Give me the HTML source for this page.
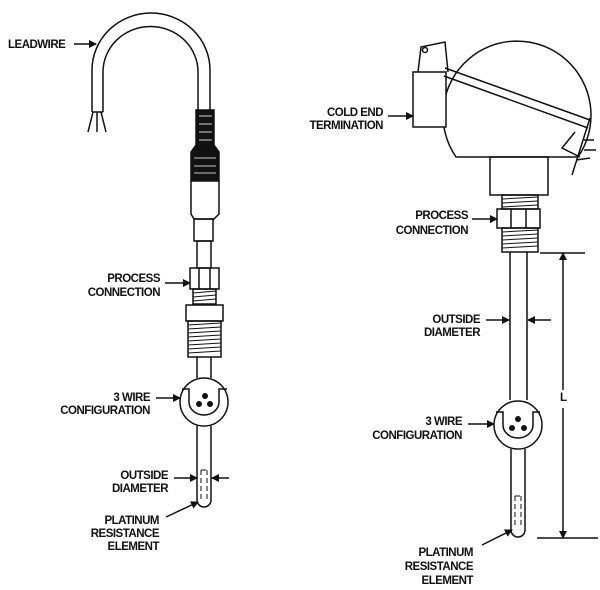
<!DOCTYPE html>
<html><head><style>
html,body{margin:0;padding:0;background:#fff;}
svg{display:block;}
text{font-family:"Liberation Sans",sans-serif;font-size:11.5px;font-weight:bold;fill:#111;letter-spacing:-0.5px;}
</style></head><body>
<svg width="600" height="590" viewBox="0 0 600 590" xmlns="http://www.w3.org/2000/svg">
<defs>
<marker id="ah" markerWidth="8" markerHeight="8" refX="7" refY="4" orient="auto" markerUnits="userSpaceOnUse">
<path d="M0,0 L8,4 L0,8 z" fill="#111"/></marker>
</defs>
<g fill="none" stroke="#111" stroke-width="1.5">
<!-- LEFT PROBE -->
<path d="M92,112 L92,70 A58,56 0 0 1 210,70 L210,112"/>
<path d="M103,112 L103,72 A47,45 0 0 1 198,72 L198,112"/>
<line x1="92" y1="112" x2="103" y2="112"/>
<path d="M93,112 L88,132 M97,112 L97,132 M101,112 L106,132"/>
<path d="M196,110 L214,110 L214,145 L219,152 L219,181 L191,181 L191,152 L196,145 Z" fill="#111"/>
<g stroke="#fff" stroke-width="0.8">
<line x1="199" y1="116" x2="212" y2="116"/><line x1="199" y1="124" x2="212" y2="124"/>
<line x1="199" y1="132" x2="212" y2="132"/><line x1="199" y1="140" x2="212" y2="140"/>
<line x1="194" y1="158" x2="216" y2="158"/><line x1="194" y1="166" x2="216" y2="166"/>
<line x1="194" y1="173" x2="216" y2="173"/>
</g>
<path d="M191,181 L191,214 L194,219 L214,219 L219,214 L219,181"/>
<rect x="194" y="219" width="19" height="22"/>
<rect x="197" y="241" width="14" height="27"/>
<rect x="190" y="268" width="29" height="21"/>
<line x1="199" y1="268" x2="199" y2="289"/><line x1="210" y1="268" x2="210" y2="289"/>
<rect x="193" y="289" width="23" height="15"/>
<path d="M193,293 L216,291 M193,297 L216,295 M193,301 L216,299" stroke-width="1"/>
<rect x="186" y="305" width="37" height="16"/>
<rect x="188" y="321" width="33" height="36"/>
<path d="M188,325 L221,323 M188,329 L221,327 M188,333 L221,331 M188,337 L221,335 M188,341 L221,339 M188,345 L221,343 M188,349 L221,347 M188,353 L221,351" stroke-width="1"/>
<line x1="197" y1="357" x2="197" y2="378"/><line x1="211" y1="357" x2="211" y2="378"/>
<circle cx="204" cy="402" r="24" fill="#fff"/>
<path d="M182,389 L189,389 L189,402 A15,13 0 0 0 219,402 L219,389 L227,389"/>
<line x1="197" y1="426" x2="197" y2="500"/><line x1="211" y1="426" x2="211" y2="500"/>
<path d="M197,500 A7,7 0 0 0 211,500"/>
<path d="M201,470 L201,500 M207,470 L207,500 M201,470 L207,470" stroke-dasharray="5,3" stroke-width="1"/>
<!-- RIGHT PROBE -->
<path d="M456,157 A74,74 0 1 1 578,157 Z" fill="#fff"/>
<rect x="413" y="72" width="33" height="55" fill="#fff"/>
<path d="M418,72 L421,47 L445,42 L448,72"/>
<circle cx="425" cy="50" r="2.5"/>
<path d="M445,68 L590,120 M444,76 L588,128"/>
<path d="M590,118 L572,175 M584,140 L594,140 M584,150 L596,150 M576,160 L590,158 M575,132 L562,148 L580,157"/>
<rect x="490" y="157" width="58" height="38"/>
<rect x="502" y="195" width="36" height="14"/>
<path d="M502,199 L538,197 M502,203 L538,201 M502,207 L538,205" stroke-width="1"/>
<rect x="497" y="209" width="43" height="19"/>
<line x1="511" y1="209" x2="511" y2="228"/><line x1="526" y1="209" x2="526" y2="228"/>
<rect x="502" y="228" width="36" height="24"/>
<path d="M502,232 L538,230 M502,236 L538,234 M502,240 L538,238 M502,244 L538,242 M502,248 L538,246" stroke-width="1"/>
<line x1="510" y1="252" x2="510" y2="400"/><line x1="527" y1="252" x2="527" y2="400"/>
<circle cx="518" cy="425" r="24" fill="#fff"/>
<path d="M496,412 L503,412 L503,425 A15,13 0 0 0 533,425 L533,412 L540,412"/>
<line x1="511" y1="449" x2="511" y2="530"/><line x1="525" y1="449" x2="525" y2="530"/>
<path d="M511,530 A7,7 0 0 0 525,530"/>
<path d="M515,496 L515,528 M521,496 L521,528 M515,496 L521,496" stroke-dasharray="5,3" stroke-width="1"/>
<line x1="540" y1="253" x2="585" y2="253"/>
<line x1="537" y1="538" x2="598" y2="538"/>
<line x1="563" y1="390" x2="563" y2="253" marker-end="url(#ah)"/>
<line x1="563" y1="408" x2="563" y2="538" marker-end="url(#ah)"/>
<!-- arrows -->
<line x1="74" y1="44" x2="96" y2="44" marker-end="url(#ah)"/>
<line x1="165" y1="283" x2="190" y2="283" marker-end="url(#ah)"/>
<line x1="156" y1="398" x2="180" y2="398" marker-end="url(#ah)"/>
<line x1="174" y1="478" x2="197" y2="478" marker-end="url(#ah)"/>
<line x1="229" y1="478" x2="212" y2="478" marker-end="url(#ah)"/>
<line x1="166" y1="517" x2="198" y2="502" marker-end="url(#ah)"/>
<line x1="388" y1="116" x2="413" y2="116" marker-end="url(#ah)"/>
<line x1="472" y1="219" x2="497" y2="219" marker-end="url(#ah)"/>
<line x1="486" y1="320" x2="509" y2="320" marker-end="url(#ah)"/>
<line x1="551" y1="320" x2="528" y2="320" marker-end="url(#ah)"/>
<line x1="468" y1="424" x2="494" y2="424" marker-end="url(#ah)"/>
<line x1="482" y1="545" x2="512" y2="530" marker-end="url(#ah)"/>
</g>
<g fill="#111" stroke="none">
<circle cx="205" cy="396" r="3"/><circle cx="199" cy="404" r="3"/><circle cx="210" cy="404" r="3"/>
<circle cx="518" cy="419" r="3"/><circle cx="512" cy="428" r="3"/><circle cx="524" cy="428" r="3"/>
</g>
<text x="8" y="48">LEADWIRE</text>
<g text-anchor="end">
<text x="160" y="282">PROCESS</text><text x="160" y="296">CONNECTION</text>
<text x="150" y="401">3 WIRE</text><text x="150" y="414">CONFIGURATION</text>
<text x="168" y="479">OUTSIDE</text><text x="168" y="492">DIAMETER</text>
<text x="159" y="524">PLATINUM</text><text x="159" y="537">RESISTANCE</text><text x="159" y="550">ELEMENT</text>
<text x="383" y="116">COLD END</text><text x="383" y="129">TERMINATION</text>
<text x="468" y="219">PROCESS</text><text x="468" y="234">CONNECTION</text>
<text x="480" y="323">OUTSIDE</text><text x="480" y="336">DIAMETER</text>
<text x="462" y="425">3 WIRE</text><text x="462" y="439">CONFIGURATION</text>
<text x="473" y="556">PLATINUM</text><text x="473" y="570">RESISTANCE</text><text x="473" y="584">ELEMENT</text>
</g>
<text x="560" y="401">L</text>
</svg>
</body></html>
